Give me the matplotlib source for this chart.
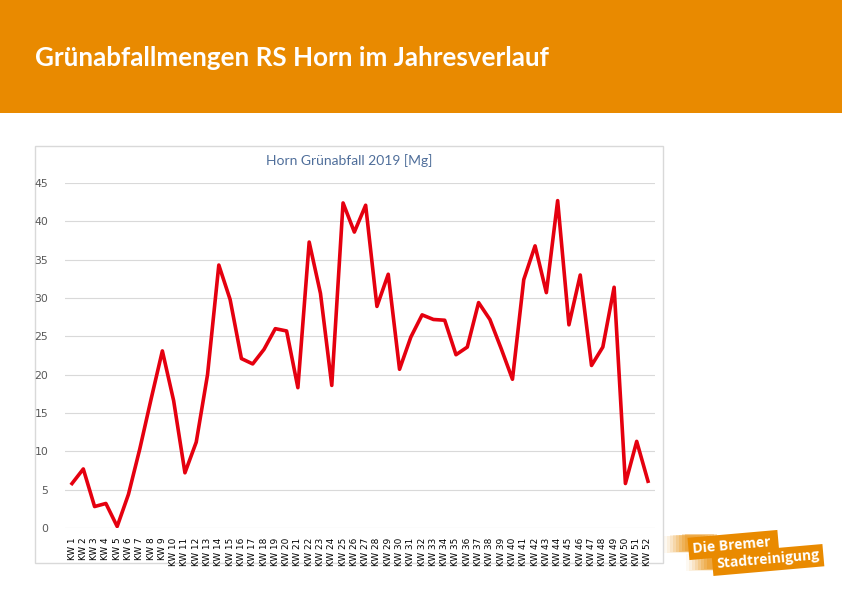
import numpy as np
import matplotlib
matplotlib.use('Agg')
import matplotlib.pyplot as plt
from matplotlib.patches import Rectangle

# weekly green waste amounts, RS Horn 2019 [Mg]
weeks = ['KW %d' % i for i in range(1, 53)]
mengen = [5.8, 7.7, 2.8, 3.2, 0.2, 4.4, 10.3, 16.8, 23.1, 16.6,
          7.2, 11.2, 20.0, 34.3, 29.8, 22.1, 21.4, 23.3, 26.0, 25.7,
          18.3, 37.3, 30.6, 18.6, 42.4, 38.6, 42.1, 28.9, 33.1, 20.7,
          24.9, 27.8, 27.2, 27.1, 22.6, 23.6, 29.4, 27.2, 23.4, 19.4,
          32.4, 36.8, 30.7, 42.7, 26.5, 33.0, 21.2, 23.6, 31.4, 5.8,
          11.3, 6.1]
yticks = [0, 5, 10, 15, 20, 25, 30, 35, 40, 45]

orange = '#E98A00'
W, H = 842, 595

fig = plt.figure(figsize=(8.42, 5.95), dpi=100)
fig.patch.set_facecolor('white')

# header band
fig.patches.append(Rectangle((0, 482 / H), 1, 113 / H, transform=fig.transFigure,
                             facecolor=orange, edgecolor='none', zorder=-2))
fig.text(35 / W, 1 - 58 / H, 'Grünabfallmengen RS Horn im Jahresverlauf',
         color='white', fontsize=18.7, fontweight='bold', family='Lato',
         va='center', ha='left')

# chart frame
fig.patches.append(Rectangle((35 / W, 32 / H), 628 / W, 417 / H, transform=fig.transFigure,
                             facecolor='white', edgecolor='#D9D9D9', lw=1, zorder=-2))
fig.text(349 / W, 1 - 161 / H, 'Horn Grünabfall 2019 [Mg]', color='#4F6E9A',
         fontsize=10, family='Lato', ha='center', va='center')

ax = fig.add_axes([65 / W, 67 / H, 590 / W, 345 / H])
x = np.arange(len(weeks))
ax.plot(x, mengen, color='#E5000F', lw=2.6, zorder=3)
ax.set_xlim(-0.62, len(weeks) - 0.38)
ax.set_ylim(0, 45)
ax.set_yticks(yticks)
ax.set_xticks(x)
ax.set_xticklabels(weeks, rotation=90, fontsize=6.4, family='DejaVu Sans')
ax.tick_params(axis='y', labelsize=7.8, colors='#595959', length=0, pad=12)
ax.tick_params(axis='x', length=0, pad=7)
ax.grid(axis='y', color='#D9D9D9', lw=0.8)
ax.set_axisbelow(True)
for s in ax.spines.values():
    s.set_visible(False)
ax.patch.set_alpha(0)

# logo
ang = 5
for i in range(8):
    fig.patches.append(Rectangle(((664 + i * 3) / W, 1 - (553 - i * 0.3) / H), 32 / W, 17 / H,
                                 transform=fig.transFigure, facecolor=orange,
                                 alpha=0.05 + i * 0.03, edgecolor='none'))
    fig.patches.append(Rectangle(((686 + i * 3) / W, 1 - (571 - i * 0.3) / H), 32 / W, 17 / H,
                                 transform=fig.transFigure, facecolor=orange,
                                 alpha=0.05 + i * 0.03, edgecolor='none'))
fig.text(692 / W, 1 - 545 / H, 'Die Bremer ', color='white', fontsize=10, fontweight='bold',
         family='Open Sans', rotation=ang, ha='left', va='center',
         bbox=dict(boxstyle='square,pad=0.3', fc=orange, ec='none'))
fig.text(716 / W, 1 - 560 / H, 'Stadtreinigung', color='white', fontsize=10, fontweight='bold',
         family='Open Sans', rotation=ang, ha='left', va='center',
         bbox=dict(boxstyle='square,pad=0.3', fc=orange, ec='none'))

fig.savefig('out.png', dpi=100)
